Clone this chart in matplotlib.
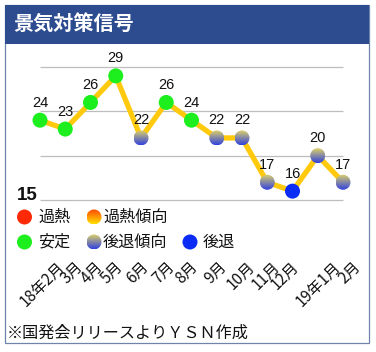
import matplotlib
matplotlib.use('Agg')
import matplotlib.pyplot as plt
import numpy as np
from matplotlib.patches import Ellipse, Rectangle, Circle

plt.rcParams['font.family'] = ['Noto Sans CJK JP', 'DejaVu Sans']

# ---- data ----
title = '景気対策信号'
months = ['18年2月', '3月', '4月', '5月', '6月', '7月', '8月', '9月',
          '10月', '11月', '12月', '19年1月', '2月']
values = [24, 23, 26, 29, 22, 26, 24, 22, 22, 17, 16, 20, 17]
signals = ['安定', '安定', '安定', '安定', '後退傾向', '安定', '安定',
           '後退傾向', '後退傾向', '後退傾向', '後退', '後退傾向', '後退傾向']
grid_levels = [15, 20, 25, 30]
legend_rows = [['過熱', '過熱傾向'], ['安定', '後退傾向', '後退']]
footer = '※国発会リリースよりＹＳＮ作成'

# ---- styles ----
solid_colors = {'過熱': '#FF2A05', '安定': '#1DEE1D', '後退': '#0A2CF5'}
grad_colors = {'過熱傾向': ((255, 70, 0), (255, 225, 0)),
               '後退傾向': ((222, 210, 105), (48, 66, 222))}

W, H = 376, 352
fig = plt.figure(figsize=(W / 100, H / 100), dpi=100)

# background / frame axes in pixel coordinates
bg = fig.add_axes([0, 0, 1, 1], zorder=0)
bg.set_xlim(0, W)
bg.set_ylim(H, 0)
bg.axis('off')
bg.add_patch(Rectangle((5, 5), 364, 338, fc='white', ec='#6F84AA', lw=0.9, zorder=1))
bg.add_patch(Rectangle((5, 5), 364, 38.5, fc='#2D4C8F', ec='none', zorder=1))
bg.text(13, 24.5, title, color='white', fontsize=14.5, fontweight='bold',
        va='center', ha='left')
bg.text(7, 333.5, footer, fontsize=11.6, va='center', ha='left', color='#111111')


def gradient_img(top, bottom, n=64):
    t = np.linspace(0, 1, n)[:, None]
    top = np.array(top) / 255.0
    bottom = np.array(bottom) / 255.0
    arr = top[None, None, :] * (1 - t[:, :, None]) + bottom[None, None, :] * t[:, :, None]
    return arr


# legend
row_y = [217, 242]
circ_x = [24.5, 94, 190]
text_x = [38, 103, 203]
r = 7.5
for ri, row in enumerate(legend_rows):
    for ci, name in enumerate(row):
        cx, cy = circ_x[ci], row_y[ri]
        if name in solid_colors:
            bg.add_patch(Circle((cx, cy), r, fc=solid_colors[name], ec='none', zorder=3))
        else:
            top, bot = grad_colors[name]
            circ = Circle((cx, cy), r, fc='none', ec='none', zorder=3)
            bg.add_patch(circ)
            im = bg.imshow(gradient_img(top, bot), extent=[cx - r, cx + r, cy + r, cy - r],
                           interpolation='bilinear', aspect='auto', zorder=3)
            im.set_clip_path(circ)
        bg.text(text_x[ci], cy, name, fontsize=11.6, va='center', ha='left',
                color='#111111')
bg.set_xlim(0, W)
bg.set_ylim(H, 0)

# main chart axes: x=0 -> 40px, x=12 -> 343px; y=15 -> 200px, y=30 -> 67px
pxx = (343 - 40) / 12
pxy = (200 - 67) / 15
left_px = 40 - pxx
right_px = 343 + pxx
top_px = 67 - pxy
bot_px = 200 + pxy
ax = fig.add_axes([left_px / W, (H - bot_px) / H, (right_px - left_px) / W,
                   (bot_px - top_px) / H], zorder=1)
ax.patch.set_visible(False)
ax.axis('off')
x = np.arange(len(values))
ax.hlines(grid_levels, 0, len(values) - 1, color='#BDBDBD', lw=0.9, zorder=1)
ax.plot(x, values, color='#FFC90E', lw=3.8, solid_joinstyle='round',
        solid_capstyle='round', zorder=2)

rx, ry = r / pxx, r / pxy
for xi, v, s in zip(x, values, signals):
    if s in solid_colors:
        ax.add_patch(Ellipse((xi, v), 2 * rx, 2 * ry, fc=solid_colors[s], ec='none', zorder=3))
    else:
        top, bot = grad_colors[s]
        el = Ellipse((xi, v), 2 * rx, 2 * ry, fc='none', ec='none', zorder=3)
        ax.add_patch(el)
        im = ax.imshow(gradient_img(top, bot), extent=[xi - rx, xi + rx, v - ry, v + ry],
                       interpolation='bilinear', aspect='auto', zorder=3)
        im.set_clip_path(el)
    ax.annotate(str(v), (xi, v), xytext=(0, 17.5), textcoords='offset pixels',
                ha='center', va='center', fontsize=10.5, family=['Liberation Sans'],
                color='#111111')

ax.annotate(str(grid_levels[0]), (0, grid_levels[0]), xytext=(-12.5, 4.5),
            textcoords='offset pixels', ha='center', va='center', fontsize=13.5,
            fontweight='bold', family=['Liberation Sans'], color='#111111')

label_dx = [22, 15, 10, 5, 5, 6, 4, 7, 10, 10, 4, 21, 15]
for xi, lab, dx in zip(x, months, label_dx):
    ax.annotate(lab, (xi, grid_levels[0]), xytext=(dx, -64), textcoords='offset pixels',
                rotation=45, rotation_mode='anchor', ha='right', va='center',
                fontsize=11, color='#111111')

ax.set_xlim(-1, len(values))
ax.set_ylim(15 - 1, 30 + 1)

fig.savefig('out.png', dpi=100)
